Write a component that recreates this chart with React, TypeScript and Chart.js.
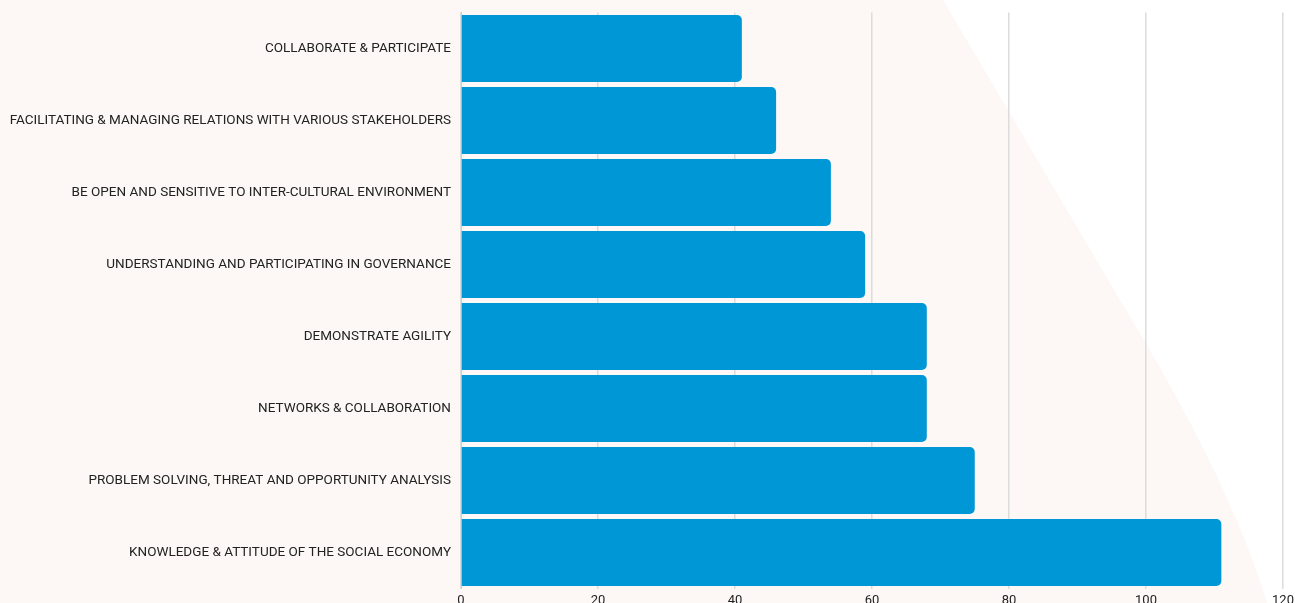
import React, { useEffect, useRef } from "react";
import { Chart, registerables } from "chart.js";

Chart.register(...registerables);

const categories = [
  "COLLABORATE & PARTICIPATE",
  "FACILITATING & MANAGING RELATIONS WITH VARIOUS STAKEHOLDERS",
  "BE OPEN AND SENSITIVE TO INTER-CULTURAL ENVIRONMENT",
  "UNDERSTANDING AND PARTICIPATING IN GOVERNANCE",
  "DEMONSTRATE AGILITY",
  "NETWORKS & COLLABORATION",
  "PROBLEM SOLVING, THREAT AND OPPORTUNITY ANALYSIS",
  "KNOWLEDGE & ATTITUDE OF THE SOCIAL ECONOMY",
];
const values = [41, 46, 54, 59, 68, 68, 75, 111];
const xTicks = [0, 20, 40, 60, 80, 100, 120];

const bgPlugin = {
  id: "bgShape",
  beforeDraw(chart: any) {
    const { ctx, width, height } = chart;
    ctx.save();
    ctx.fillStyle = "#ffffff";
    ctx.fillRect(0, 0, width, height);
    ctx.fillStyle = "#fdf8f5";
    ctx.beginPath();
    ctx.moveTo(0, 0);
    ctx.lineTo(943, 0);
    ctx.lineTo(1120, 300);
    ctx.quadraticCurveTo(1230, 480, 1267, 603);
    ctx.lineTo(1275, height);
    ctx.lineTo(0, height);
    ctx.closePath();
    ctx.fill();
    ctx.restore();
  },
};

export default function App() {
  const ref = useRef<HTMLCanvasElement>(null);
  useEffect(() => {
    if (!ref.current) return;
    const chart = new Chart(ref.current, {
      type: "bar",
      data: {
        labels: categories,
        datasets: [
          {
            data: values,
            backgroundColor: "#0097d6",
            borderRadius: { topRight: 5, bottomRight: 5, topLeft: 0, bottomLeft: 0 },
            borderSkipped: false,
            barPercentage: 0.93,
            categoryPercentage: 1,
          },
        ],
      },
      options: {
        indexAxis: "y",
        animation: false,
        responsive: false,
        maintainAspectRatio: false,
        layout: { padding: { top: 12.5, right: 12, left: 0, bottom: 0 } },
        plugins: { legend: { display: false }, tooltip: { enabled: false } },
        scales: {
          x: {
            min: 0,
            max: 120,
            afterBuildTicks: (scale: any) => {
              scale.ticks = xTicks.map((v) => ({ value: v }));
            },
            afterFit: (scale: any) => {
              scale.height = 28.5;
              scale.paddingLeft = 0;
              scale.paddingRight = 0;
            },
            grid: { color: "#dcdcdc", lineWidth: 1.5, drawTicks: false },
            border: { display: false },
            ticks: {
              padding: 4,
              color: "#222",
              font: { family: "Roboto", size: 13 },
            },
          },
          y: {
            afterFit: (scale: any) => {
              scale.width = 461;
              scale.paddingTop = 0;
              scale.paddingBottom = 0;
            },
            grid: { display: false, drawTicks: false },
            border: { display: true, color: "#cfcfcf", width: 1 },
            ticks: {
              padding: 10,
              color: "#222",
              font: { family: "Roboto", size: 13.5 },
            },
          },
        },
      },
      plugins: [bgPlugin],
    });
    return () => chart.destroy();
  }, []);
  return (
    <div style={{ position: "fixed", left: 0, top: 0, width: 1295, height: 617 }}>
      <canvas ref={ref} width={1295} height={617} style={{ display: "block" }} />
    </div>
  );
}
